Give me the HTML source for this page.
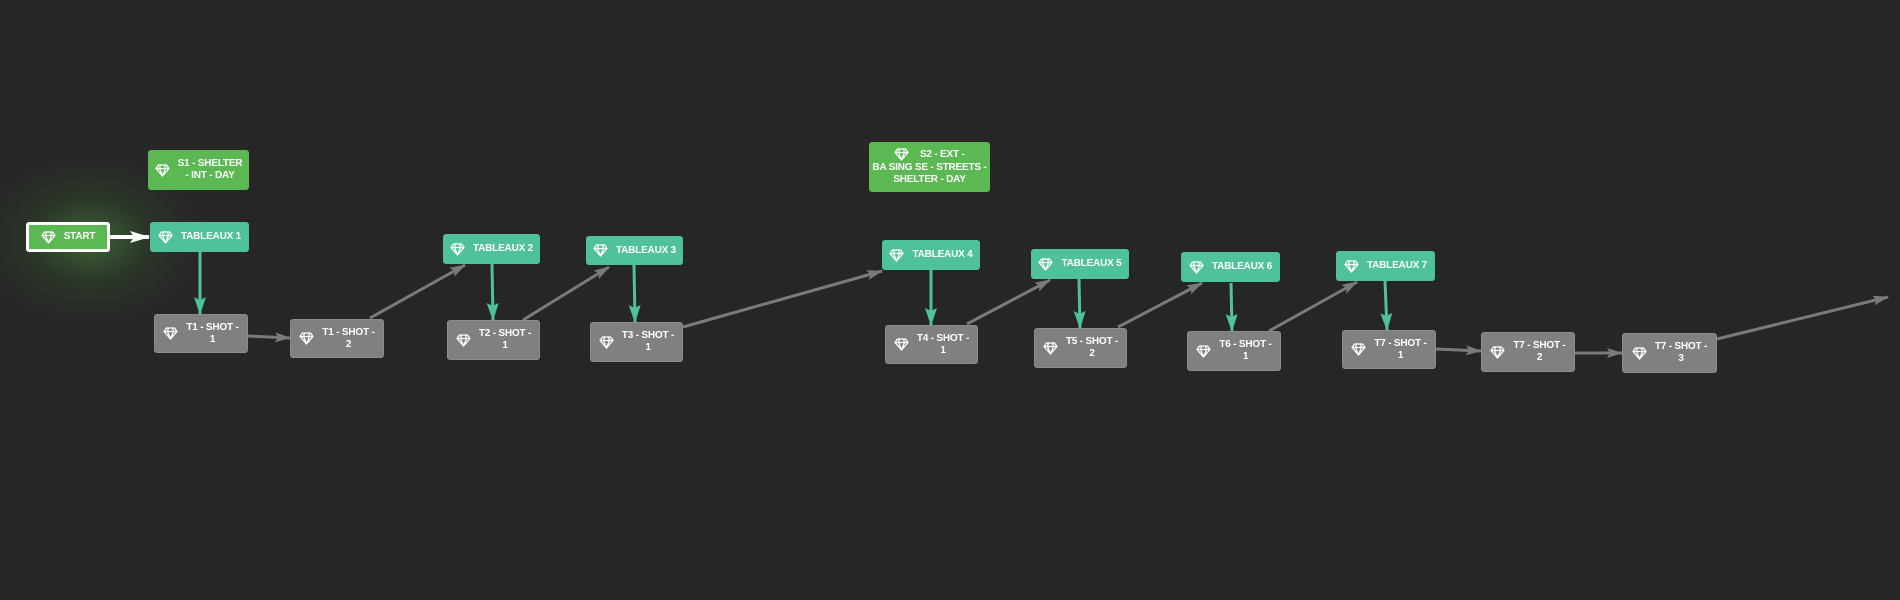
<!DOCTYPE html>
<html><head><meta charset="utf-8"><style>
html,body{margin:0;padding:0;background:#262626;width:1900px;height:600px;overflow:hidden;font-family:"Liberation Sans",sans-serif}
.n{position:absolute;box-sizing:border-box;border-radius:3px;color:#fff;font-size:10px;font-weight:bold;display:flex;align-items:center;justify-content:center;text-align:center;line-height:12px;letter-spacing:-0.2px}
.n svg{flex:none;margin-right:8px}
.g{background:#5bb853}.t{background:#4fc19b}.s{background:#808080;border:1px solid #8c8c8c}
.glow{position:absolute;left:-30px;top:150px;width:240px;height:180px;background:radial-gradient(ellipse at center,rgba(90,170,70,.45) 0%,rgba(60,110,50,.2) 35%,rgba(38,38,38,0) 70%)}
</style></head><body>
<div class="glow"></div>
<svg width="1900" height="600" style="position:absolute;left:0;top:0">
<defs>
<marker id="at" markerWidth="18" markerHeight="12" refX="17" refY="6" orient="auto" markerUnits="userSpaceOnUse"><path d="M0,0L18,6L0,12L3,6z" fill="#4fc19b"/></marker>
<marker id="aw" markerWidth="20" markerHeight="12" refX="19" refY="6" orient="auto" markerUnits="userSpaceOnUse"><path d="M0,0L20,6L0,12L4,6z" fill="#fff"/></marker>
<marker id="ag2" markerWidth="16" markerHeight="10" refX="15" refY="5" orient="auto" markerUnits="userSpaceOnUse"><path d="M0,0L16,5L0,10L3,5z" fill="#7a7a7a"/></marker>
</defs>
<g stroke="#7a7a7a" stroke-width="3" fill="none">
<line x1="248" y1="336" x2="290" y2="338" marker-end="url(#ag2)"/>
<line x1="370" y1="318" x2="465" y2="265" marker-end="url(#ag2)"/>
<line x1="523" y1="320" x2="609" y2="267" marker-end="url(#ag2)"/>
<line x1="683" y1="327" x2="882" y2="271" marker-end="url(#ag2)"/>
<line x1="967" y1="324" x2="1050" y2="280" marker-end="url(#ag2)"/>
<line x1="1118" y1="327" x2="1202" y2="283" marker-end="url(#ag2)"/>
<line x1="1269" y1="331" x2="1357" y2="282" marker-end="url(#ag2)"/>
<line x1="1436" y1="349" x2="1481" y2="351" marker-end="url(#ag2)"/>
<line x1="1575" y1="353" x2="1622" y2="353" marker-end="url(#ag2)"/>
<line x1="1717" y1="339" x2="1888" y2="297" marker-end="url(#ag2)"/>
</g>
<g stroke="#4fc19b" stroke-width="3" fill="none">
<line x1="200" y1="252" x2="200" y2="314" marker-end="url(#at)"/>
<line x1="492" y1="264" x2="493" y2="320" marker-end="url(#at)"/>
<line x1="634" y1="265" x2="635" y2="322" marker-end="url(#at)"/>
<line x1="931" y1="270" x2="931" y2="325" marker-end="url(#at)"/>
<line x1="1079" y1="279" x2="1080" y2="328" marker-end="url(#at)"/>
<line x1="1231" y1="283" x2="1232" y2="331" marker-end="url(#at)"/>
<line x1="1385" y1="281" x2="1387" y2="330" marker-end="url(#at)"/>
</g>
<line x1="110" y1="237" x2="149" y2="237" stroke="#fff" stroke-width="4" marker-end="url(#aw)"/>
</svg>
<div id="nodes"></div>
<script>
var D='<svg width="15" height="13" viewBox="0 0 15 13"><path d="M3.5,1H11.5L14,4.5L7.5,12L1,4.5Z M1,4.5H14 M5.5,1L4.5,4.5L7.5,12L10.5,4.5L9.5,1" fill="none" stroke="#fff" stroke-width="1.3" stroke-linejoin="round"/></svg>';
var N=[
['g',26,222,84,30,'START','border:3px solid #fff'],
['g',148,150,101,40,'S1 - SHELTER<br>- INT - DAY'],
['t',150,222,99,30,'TABLEAUX 1'],
['s',154,314,94,39,'T1 - SHOT -<br>1'],
['s',290,319,94,39,'T1 - SHOT -<br>2'],
['t',443,234,97,30,'TABLEAUX 2'],
['s',447,320,93,40,'T2 - SHOT -<br>1'],
['t',586,236,97,29,'TABLEAUX 3'],
['s',590,322,93,40,'T3 - SHOT -<br>1'],
['g',869,142,121,50,'S2 - EXT -<br>BA SING SE - STREETS -<br>SHELTER - DAY','flex-direction:column'],
['t',882,240,98,30,'TABLEAUX 4'],
['s',885,325,93,39,'T4 - SHOT -<br>1'],
['t',1031,249,98,30,'TABLEAUX 5'],
['s',1034,328,93,40,'T5 - SHOT -<br>2'],
['t',1181,252,99,30,'TABLEAUX 6'],
['s',1187,331,94,40,'T6 - SHOT -<br>1'],
['t',1336,251,99,30,'TABLEAUX 7'],
['s',1342,330,94,39,'T7 - SHOT -<br>1'],
['s',1481,332,94,40,'T7 - SHOT -<br>2'],
['s',1622,333,95,40,'T7 - SHOT -<br>3']];
var h='';
N.forEach(function(n){
 var col=n[6]&&n[6].indexOf('column')>=0;
 h+='<div class="n '+n[0]+'" style="left:'+n[1]+'px;top:'+n[2]+'px;width:'+n[3]+'px;height:'+n[4]+'px;'+(n[6]||'')+'">'+
 (col?'<div>'+D.replace('<svg','<svg style="vertical-align:middle;margin-right:8px"')+' S2 - EXT -</div><div>BA SING SE - STREETS -<br>SHELTER - DAY</div>':D+'<span>'+n[5]+'</span>')+'</div>';
});
document.getElementById('nodes').innerHTML=h;
</script>
</body></html>
